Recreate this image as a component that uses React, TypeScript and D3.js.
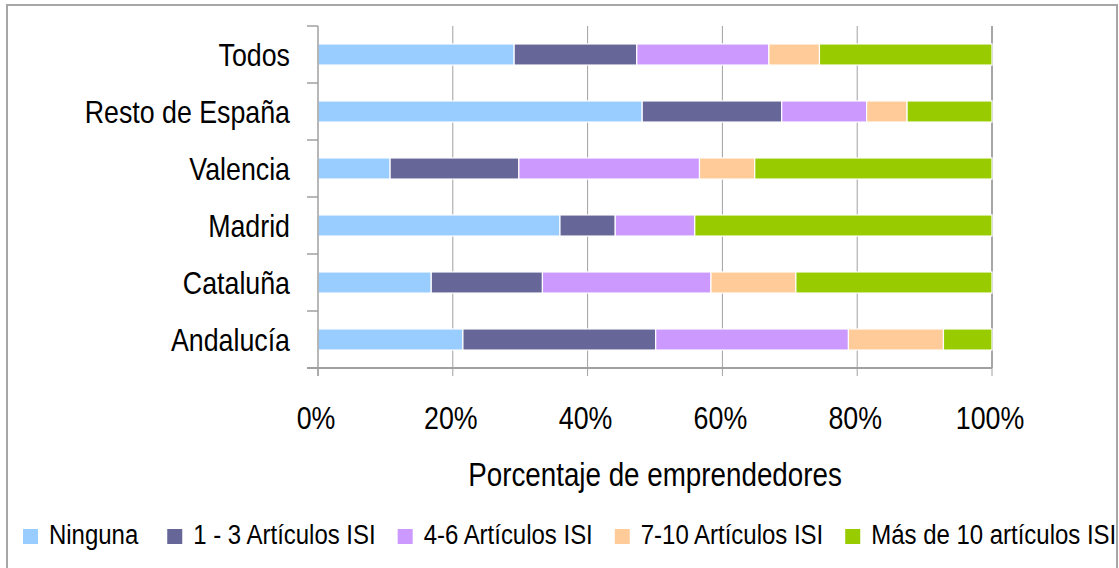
import React, { useEffect, useRef } from "react";
import * as d3 from "d3";

const categories = ["Todos", "Resto de España", "Valencia", "Madrid", "Cataluña", "Andalucía"];
const seriesNames = ["Ninguna", "1 - 3 Artículos ISI", "4-6 Artículos ISI", "7-10 Artículos ISI", "Más de 10 artículos ISI"];
const seriesColors = ["#99CCFF", "#666699", "#CC99FF", "#FFCC99", "#99CC00"];
// values per series, in category order
const ninguna = [29.1, 48.1, 10.7, 35.9, 16.8, 21.5];
const art1a3 = [18.2, 20.7, 19.1, 8.2, 16.5, 28.6];
const art4a6 = [19.6, 12.6, 26.8, 11.8, 25.0, 28.6];
const art7a10 = [7.5, 6.0, 8.2, 0.0, 12.6, 14.1];
const mas10 = [25.6, 12.6, 35.2, 44.1, 29.1, 7.2];
const xTicks = [0, 0.2, 0.4, 0.6, 0.8, 1.0];
const axisTitle = "Porcentaje de emprendedores";

const W = 1119;
const H = 568;
const FONT = "Arial, 'Liberation Sans', sans-serif";
const SX = 0.85;

export default function App() {
  const ref = useRef<SVGSVGElement>(null);

  useEffect(() => {
    const svg = d3.select(ref.current);
    svg.selectAll("*").remove();

    const left = 318, right = 992, top = 26, bottom = 368;
    const x = d3.scaleLinear().domain([0, 1]).range([left, right]);
    const y = d3.scaleBand().domain(categories).range([top, bottom]).paddingInner(0.63).paddingOuter(0.315);
    const yb = d3.scaleBand().domain(categories).range([top, bottom]);

    // outer border
    svg.append("rect").attr("x", 7).attr("y", 5).attr("width", 1110).attr("height", 570)
      .attr("fill", "white").attr("stroke", "#a6a6a6").attr("stroke-width", 2);

    // gridlines
    svg.append("g").selectAll("line").data(xTicks.slice(1)).join("line")
      .attr("x1", (d) => x(d)).attr("x2", (d) => x(d))
      .attr("y1", top).attr("y2", bottom)
      .attr("stroke", (d) => (d === 1 ? "#8a8a8a" : "#a0a0a0")).attr("stroke-width", (d) => (d === 1 ? 1.5 : 1));

    // stacked data
    const table = categories.map((c, i) => {
      const vals = [ninguna[i], art1a3[i], art4a6[i], art7a10[i], mas10[i]];
      const tot = d3.sum(vals);
      const row: any = { cat: c };
      seriesNames.forEach((s, k) => (row[s] = vals[k] / tot));
      return row;
    });
    const stack = d3.stack().keys(seriesNames)(table as any);

    const g = svg.append("g");
    stack.forEach((layer, k) => {
      g.append("g").selectAll("rect").data(layer).join("rect")
        .attr("x", (d: any) => x(d[0]))
        .attr("y", (d: any) => y(d.data.cat)!)
        .attr("width", (d: any) => Math.max(0, x(d[1]) - x(d[0])))
        .attr("height", y.bandwidth())
        .attr("fill", seriesColors[k])
        .attr("stroke", (d: any) => (d[1] - d[0] > 0 ? "white" : "none"))
        .attr("stroke-width", 1.2);
    });

    // category axis
    svg.append("line").attr("x1", left).attr("x2", left).attr("y1", top).attr("y2", bottom + 8)
      .attr("stroke", "#a0a0a0").attr("stroke-width", 1.5);
    const bounds = categories.map((c) => yb(c)!).concat([bottom]);
    svg.append("g").selectAll("line").data(bounds).join("line")
      .attr("x1", 307).attr("x2", left).attr("y1", (d) => d).attr("y2", (d) => d)
      .attr("stroke", "#a0a0a0").attr("stroke-width", 1.5);

    // x axis
    svg.append("line").attr("x1", 307).attr("x2", right).attr("y1", bottom).attr("y2", bottom)
      .attr("stroke", "#a0a0a0").attr("stroke-width", 2);
    svg.append("g").selectAll("line").data(xTicks).join("line")
      .attr("x1", (d) => x(d)).attr("x2", (d) => x(d)).attr("y1", bottom).attr("y2", bottom + 8)
      .attr("stroke", "#a0a0a0").attr("stroke-width", 1);

    const fmt = d3.format(".0%");
    svg.append("g").selectAll("text").data(xTicks).join("text")
      .attr("transform", (d) => `translate(${x(d) - 2},429) scale(${SX},1)`)
      .attr("text-anchor", "middle")
      .attr("font-family", FONT).attr("font-size", 31.5).attr("fill", "#000")
      .text((d) => fmt(d));

    // category labels
    svg.append("g").selectAll("text").data(categories).join("text")
      .attr("transform", (d) => `translate(290,${y(d)! + y.bandwidth() / 2 + 11}) scale(${SX},1)`)
      .attr("text-anchor", "end")
      .attr("font-family", FONT).attr("font-size", 31.5).attr("fill", "#000")
      .text((d) => d);

    // axis title
    svg.append("text")
      .attr("transform", `translate(${(left + right) / 2},486) scale(${SX},1)`)
      .attr("text-anchor", "middle")
      .attr("font-family", FONT).attr("font-size", 32.7).attr("fill", "#000")
      .text(axisTitle);

    // legend
    const lg = svg.append("g");
    let cx = 23;
    seriesNames.forEach((s, k) => {
      lg.append("rect").attr("x", cx).attr("y", 529).attr("width", 15).attr("height", 15).attr("fill", seriesColors[k]);
      const t = lg.append("text")
        .attr("transform", `translate(${cx + 26},544) scale(${SX},1)`)
        .attr("font-family", FONT).attr("font-size", 28.2).attr("fill", "#000")
        .text(s);
      const w = (t.node() as SVGTextElement).getComputedTextLength() * SX;
      cx = cx + 26 + w + (k === 0 ? 29 : 22);
    });
  }, []);

  return (
    <svg ref={ref} width={W} height={H} style={{ position: "absolute", left: 0, top: 0, background: "white" }} />
  );
}
